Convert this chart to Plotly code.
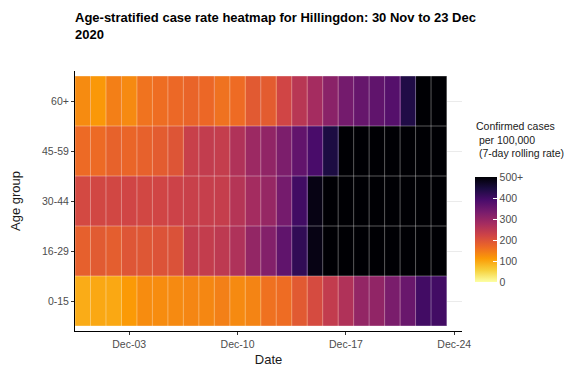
import plotly.graph_objects as go
import pandas as pd

# 7-day rolling case rate per 100,000, one value per day 30 Nov - 23 Dec 2020
dates = pd.date_range("2020-11-30", "2020-12-23", freq="D")
age_groups = ["0-15", "16-29", "30-44", "45-59", "60+"]

rate_0_15 = [94, 98, 98, 112, 128, 128, 130, 135, 133, 141, 130, 137,
             158, 163, 189, 212, 240, 263, 300, 303, 331, 352, 398, 398]
rate_16_29 = [180, 188, 183, 195, 194, 199, 201, 238, 238, 246, 265, 300,
              320, 362, 418, 485, 530, 570, 600, 620, 610, 600, 590, 580]
rate_30_44 = [215, 218, 218, 221, 218, 221, 226, 231, 234, 236, 257, 279,
              296, 337, 400, 485, 540, 580, 600, 610, 590, 570, 560, 550]
rate_45_59 = [166, 166, 177, 172, 178, 186, 196, 231, 239, 237, 263, 289,
              303, 328, 360, 390, 443, 520, 570, 600, 620, 600, 590, 580]
rate_60_plus = [129, 114, 142, 130, 156, 162, 168, 174, 169, 157, 164, 189,
                186, 220, 253, 278, 311, 338, 355, 362, 376, 438, 560, 610]

x_ticks = ["2020-12-03", "2020-12-10", "2020-12-17", "2020-12-24"]
cbar_ticks = [0, 100, 200, 300, 400, 500]
cbar_labels = ["0", "100", "200", "300", "400", "500+"]

FONT = "Liberation Sans, Arial, sans-serif"
TICK_FONT = dict(family=FONT, size=10.5, color="#4d4d4d")

z = [rate_0_15, rate_16_29, rate_30_44, rate_45_59, rate_60_plus]

fig = go.Figure(go.Heatmap(
    x=dates,
    y=age_groups,
    z=z,
    colorscale="Inferno_r",
    zmin=0,
    zmax=500,
    colorbar=dict(
        x=1.0336, xanchor="left", xpad=0,
        y=0.39, yanchor="middle", ypad=0,
        len=105, lenmode="pixels", thickness=22,
        outlinewidth=0,
        tickvals=cbar_ticks, ticktext=cbar_labels,
        ticks="inside", ticklen=4, tickcolor="white",
        tickfont=TICK_FONT,
    ),
    hovertemplate="%{x|%d %b}<br>%{y}: %{z}<extra></extra>",
))

# thin translucent tile borders
border = dict(color="rgba(255,255,255,0.35)", width=1)
half_day = pd.Timedelta(hours=12)
edges = list(dates - half_day) + [dates[-1] + half_day]
for e in edges:
    fig.add_shape(type="line", x0=e, x1=e, y0=-0.5, y1=len(age_groups) - 0.5,
                  xref="x", yref="y", line=border, layer="above")
for i in range(len(age_groups) + 1):
    fig.add_shape(type="line", x0=edges[0], x1=edges[-1], y0=i - 0.5, y1=i - 0.5,
                  xref="x", yref="y", line=border, layer="above")

fig.add_annotation(
    text="Confirmed cases<br>\u00a0per 100,000<br>\u00a0(7-day rolling rate)",
    xref="paper", yref="paper", x=1.031, y=0.819,
    xanchor="left", yanchor="top", align="left", showarrow=False,
    font=dict(family=FONT, size=10.5, color="#1a1a1a"),
)

# the page body adds an 8px offset, so the figure is 8px smaller each way
fig.update_layout(
    width=573, height=364,
    margin=dict(l=67, r=119, t=63, b=41),
    paper_bgcolor="white",
    plot_bgcolor="white",
    font=dict(family=FONT, color="#1a1a1a"),
    title=dict(
        text="<b>Age-stratified case rate heatmap for Hillingdon: 30 Nov to 23 Dec<br>2020</b>",
        xref="paper", x=0, xanchor="left",
        yref="container", y=0.9615, yanchor="top",
        font=dict(family=FONT, size=13, color="black"),
    ),
)
fig.update_xaxes(
    type="date", automargin=False,
    range=["2020-11-29 12:00", "2020-12-24 12:00"],
    tickvals=x_ticks, tickformat="%b-%d",
    ticks="outside", ticklen=3, tickcolor="#333333",
    showline=True, linecolor="black", linewidth=1,
    showgrid=False, zeroline=False,
    tickfont=TICK_FONT,
    title=dict(text="Date", standoff=6, font=dict(family=FONT, size=13, color="#1a1a1a")),
)
fig.update_yaxes(
    type="category", categoryorder="array", categoryarray=age_groups,
    automargin=False,
    range=[-0.6, 4.6],
    ticks="outside", ticklen=3, tickcolor="#333333",
    showline=True, linecolor="black", linewidth=1,
    showgrid=True, gridcolor="#ebebeb", zeroline=False,
    tickfont=TICK_FONT,
    title=dict(text="Age group", standoff=18, font=dict(family=FONT, size=13, color="#1a1a1a")),
)

fig.write_html("out.html")
